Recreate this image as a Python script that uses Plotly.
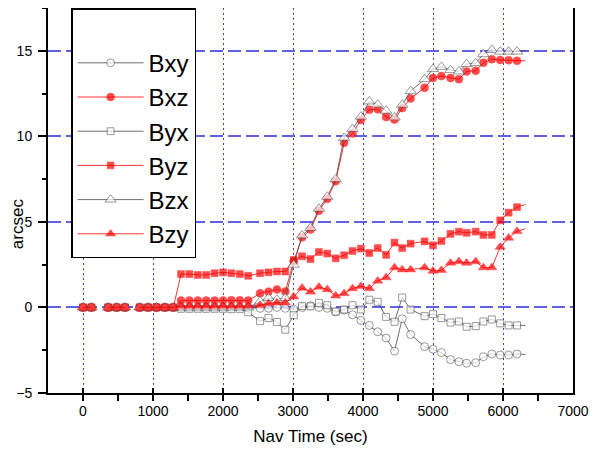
import plotly.graph_objects as go

# Navigation time samples (sec); None-valued samples mark breaks in the record
nav_time = [0, 120, 240, 360, 480, 600, 705, 810, 930, 1050, 1170, 1290,
            1400, 1520, 1640, 1760, 1880, 2000, 2120, 2240, 2360,
            2530, 2650, 2770, 2890, 3010, 3130, 3250, 3370, 3490, 3610,
            3730, 3850, 3970, 4090, 4210, 4330, 4450, 4560, 4680,
            4880, 5000, 5120, 5250, 5370, 5480, 5610, 5720, 5840, 5960,
            6080, 6200, 6320]

bxy = [0, 0, None, 0, 0, 0, None, 0, 0, 0, 0, 0,
       0, 0, 0, 0, 0, 0, 0, 0, 0,
       -0.05, -0.05, 0.0, -0.05, -0.1, 0.0, 0.1, 0.0, -0.05, -0.26,
       -0.16, -0.43, -0.76, -1.05, -1.42, -1.79, -2.55, -0.66, -1.58,
       -2.29, -2.44, -2.64, -3.05, -3.17, -3.26, -3.23, -2.88, -2.72, -2.78,
       -2.78, -2.72, -2.75]

bxz = [0, 0, None, 0, 0, 0, None, 0, 0, 0, 0, 0,
       0.4, 0.4, 0.4, 0.4, 0.4, 0.4, 0.42, 0.42, 0.4,
       0.83, 0.92, 1.05, 0.93, 2.7, 4.1, 4.55, 5.65, 6.35, 7.38,
       9.62, 10.17, 10.96, 11.56, 11.58, 11.13, 10.98, 11.65, 12.21,
       12.84, 13.41, 13.52, 13.41, 13.34, 13.79, 13.83, 14.3, 14.51, 14.46,
       14.45, 14.41, 14.41]

byx = [0, 0, None, 0, 0, 0, None, 0, 0, 0, 0, 0,
       -0.08, -0.08, -0.08, -0.08, -0.08, -0.08, -0.1, -0.1, -0.28,
       -0.8, -0.62, -0.85, -1.3, -0.45, 0.08, 0.06, 0.27, 0.13, -0.24,
       -0.12, 0.13, -0.12, 0.45, 0.33, -0.55, -0.84, 0.58, -0.12,
       -0.51, -0.39, -0.62, -0.88, -0.82, -1.13, -1.09, -0.82, -0.7, -0.93,
       -1.05, -1.05, -1.05]

byz = [0, 0, None, 0, 0, 0, None, 0, 0, 0, 0, 0,
       1.95, 1.95, 1.9, 1.9, 2.0, 2.05, 2.0, 1.95, 1.85,
       2.0, 2.05, 2.1, 2.1, 2.78, 2.99, 2.83, 3.24, 3.15, 2.87,
       3.05, 3.3, 3.44, 3.18, 3.47, 3.07, 3.79, 3.47, 3.73,
       3.86, 3.63, 3.88, 4.3, 4.43, 4.36, 4.43, 4.24, 4.24, 5.09,
       5.54, 5.86, 6.02]

bzx = [0, 0, None, 0, 0, 0, None, 0, 0, 0, 0, 0,
       0, 0, 0, 0, 0, 0, 0, 0, 0,
       0.35, 0.55, 0.45, 0.55, 2.5, 4.21, 4.65, 5.77, 6.47, 7.5,
       9.91, 10.43, 11.15, 12.04, 11.85, 11.5, 11.1, 11.85, 12.64,
       13.34, 13.93, 14.06, 13.87, 13.79, 14.22, 14.28, 14.8, 15.05, 14.95,
       14.95, 14.95, 15.0]

bzy = [0, 0, None, 0, 0, 0, None, 0, 0, 0, 0, 0,
       0.08, 0.08, 0.08, 0.08, 0.08, 0.08, 0.08, 0.08, 0.08,
       0.13, 0.23, 0.27, 0.27, 0.62, 1.14, 0.91, 1.2, 1.05, 0.68,
       0.82, 1.11, 1.24, 1.11, 1.55, 1.75, 2.33, 2.21, 2.21,
       2.33, 2.13, 2.17, 2.6, 2.68, 2.6, 2.68, 2.33, 2.33, 3.53,
       4.06, 4.45, 4.6]

series_names = ["Bxy", "Bxz", "Byx", "Byz", "Bzx", "Bzy"]

RED = "#ff0000"
GREY = "#4a4a4a"
styles = {
    "Bxy": dict(symbol="circle", size=8, color="white", edge=GREY, line=GREY),
    "Bxz": dict(symbol="circle", size=8, color=RED, edge=RED, line=RED),
    "Byx": dict(symbol="square", size=7, color="white", edge=GREY, line=GREY),
    "Byz": dict(symbol="square", size=7, color=RED, edge=RED, line=RED),
    "Bzx": dict(symbol="triangle-up", size=10, color="white", edge=GREY, line=GREY),
    "Bzy": dict(symbol="triangle-up", size=9, color=RED, edge=RED, line=RED),
}
values = [bxy, bxz, byx, byz, bzx, bzy]

fig = go.Figure()
n = len(nav_time)
for name, vals in zip(series_names, values):
    st = styles[name]
    sizes = [st["size"]] * (n - 1) + [0]
    fig.add_trace(go.Scatter(
        x=nav_time, y=vals, name=name, mode="lines+markers",
        connectgaps=False,
        line=dict(color=st["line"], width=0.8),
        marker=dict(symbol=st["symbol"], size=sizes, color=st["color"],
                    line=dict(color=st["edge"], width=0.8 if st["color"] == "white" else 0.5)),
    ))

FONT = "Liberation Sans, Arial, sans-serif"
GRID = "#6060e4"
GRID_X = "#3a3aff"

# The page body adds an 8px offset, so the figure is sized to fit the window.
fig.update_layout(
    width=582, height=438,
    margin=dict(l=40, r=17, t=0, b=53, autoexpand=False),
    paper_bgcolor="white", plot_bgcolor="white",
    font=dict(family=FONT, size=14, color="black"),
    showlegend=True,
    legend=dict(
        x=0.044, y=1.0, xanchor="left", yanchor="top",
        bgcolor="white", bordercolor="black", borderwidth=1.5,
        font=dict(family=FONT, size=24, color="black"),
        title=dict(text="&nbsp;", font=dict(family=FONT, size=24)),
        itemwidth=66, tracegroupgap=0,
    ),
    xaxis=dict(
        range=[-500, 7000], tick0=0, dtick=1000, automargin=False,
        showgrid=True, gridcolor=GRID_X, gridwidth=1.2, griddash="2px,3px",
        zeroline=False,
        showline=True, linecolor="black", linewidth=2, mirror=True,
        ticks="inside", ticklen=5, tickwidth=1.5, tickcolor="black",
        ticklabelstandoff=4,
        minor=dict(dtick=500, tick0=-500, ticks="outside", ticklen=6,
                   tickwidth=1.5, tickcolor="black", showgrid=False),
        tickfont=dict(family=FONT, size=14),
        title=dict(text="Nav Time (sec)", font=dict(family=FONT, size=17), standoff=16),
    ),
    yaxis=dict(
        range=[-5, 17.5], tick0=-5, dtick=5, automargin=False,
        showgrid=True, gridcolor=GRID, gridwidth=1.5, griddash="13px,5px",
        zeroline=False,
        showline=True, linecolor="black", linewidth=2, mirror=True,
        ticks="outside", ticklen=8, tickwidth=1.5, tickcolor="black",
        ticklabelstandoff=3,
        minor=dict(dtick=2.5, ticks="outside", ticklen=4, tickwidth=1.5,
                   tickcolor="black", showgrid=False),
        tickfont=dict(family=FONT, size=14),
    ),
    annotations=[dict(
        text="arcsec", textangle=-90, showarrow=False,
        xref="paper", yref="paper", x=-0.058, y=0.44,
        xanchor="center", yanchor="middle",
        font=dict(family=FONT, size=17, color="black"),
    )],
)

fig.write_html("out.html")
